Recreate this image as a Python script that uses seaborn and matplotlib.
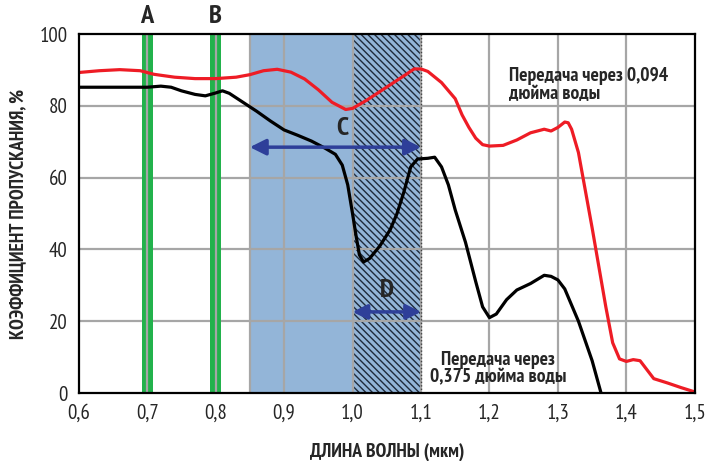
import numpy as np
import pandas as pd
import matplotlib
matplotlib.use("Agg")
import matplotlib.pyplot as plt
import seaborn as sns
from matplotlib import font_manager

red_x = [0.60, 0.63, 0.66, 0.69, 0.71, 0.74, 0.77, 0.80, 0.83, 0.85, 0.87, 0.89,
         0.91, 0.93, 0.95, 0.97, 0.99, 1.00, 1.02, 1.04, 1.06, 1.08, 1.09, 1.10,
         1.11, 1.13, 1.15, 1.16, 1.17, 1.18, 1.19, 1.20, 1.22, 1.24, 1.26, 1.28,
         1.29, 1.30, 1.31, 1.315, 1.32, 1.33, 1.35, 1.37, 1.38, 1.39, 1.40, 1.41,
         1.42, 1.43, 1.44, 1.46, 1.48, 1.50]
red_y = [89.3, 89.8, 90.1, 89.8, 88.8, 88.0, 87.6, 87.6, 88.0, 88.7, 89.8, 90.2,
         89.4, 87.5, 84.5, 81.0, 79.0, 79.3, 81.5, 84.0, 86.5, 89.0, 90.3, 90.3,
         89.6, 86.5, 82.0, 77.5, 74.0, 71.0, 69.2, 68.8, 69.0, 70.5, 72.5, 73.5,
         73.0, 74.0, 75.5, 75.3, 73.5, 67.0, 46.0, 24.0, 14.0, 9.5, 8.8, 9.3,
         9.0, 6.5, 4.0, 2.8, 1.5, 0.3]

black_x = [0.60, 0.65, 0.70, 0.72, 0.735, 0.75, 0.77, 0.785, 0.80, 0.81, 0.82,
           0.84, 0.86, 0.88, 0.90, 0.92, 0.94, 0.96, 0.975, 0.985, 0.993, 1.00,
           1.005, 1.01, 1.016, 1.025, 1.04, 1.055, 1.065, 1.075, 1.085, 1.095,
           1.11, 1.12, 1.13, 1.14, 1.15, 1.165, 1.18, 1.19, 1.20, 1.21, 1.225,
           1.24, 1.26, 1.28, 1.29, 1.30, 1.31, 1.33, 1.35, 1.363]
black_y = [85.2, 85.2, 85.2, 85.5, 85.2, 84.2, 83.2, 82.8, 83.6, 84.2, 83.5,
           81.0, 78.5, 75.8, 73.3, 71.8, 70.2, 68.2, 66.5, 63.5, 58.0, 50.0,
           44.0, 38.5, 36.5, 37.5, 41.0, 45.5, 50.0, 56.0, 63.0, 65.2,
           65.4, 65.7, 63.0, 58.0, 51.0, 42.0, 31.0, 24.0, 21.0, 22.0, 26.0,
           28.7, 30.5, 32.8, 32.5, 31.5, 29.0, 20.0, 9.0, 0.0]

x_ticks = [0.6, 0.7, 0.8, 0.9, 1.0, 1.1, 1.2, 1.3, 1.4, 1.5]
x_tick_labels = ["0,6", "0,7", "0,8", "0,9", "1,0", "1,1", "1,2", "1,3", "1,4", "1,5"]
y_ticks = [0, 20, 40, 60, 80, 100]

green_lines = {"A": 0.7, "B": 0.8}

sns.set_theme(style="white")
names = {f.name for f in font_manager.fontManager.ttflist}
candidates = ["PT Sans Narrow", "Fira Sans Condensed", "Roboto Condensed",
              "Ubuntu Condensed", "IBM Plex Sans Condensed", "Open Sans Condensed",
              "Liberation Sans"]
narrow = next((c for c in candidates if c in names), "DejaVu Sans")
plt.rcParams["font.family"] = [narrow, "DejaVu Sans"]
plt.rcParams["hatch.linewidth"] = 1.0

fig = plt.figure(figsize=(7.09, 4.61), dpi=100)
ax = fig.add_axes([0.111, 0.1475, 0.869, 0.7785])

grid_c = "#a6a6a6"
for x in x_ticks[1:-1]:
    ax.axvline(x, color=grid_c, lw=1.6, zorder=3)
for y in y_ticks[1:-1]:
    ax.axhline(y, color=grid_c, lw=1.6, zorder=3)

# зоны
blue = "#93b5d8"
ax.axvspan(0.85, 1.0, color=blue, zorder=2, lw=0)
ax.axvline(0.85, color=grid_c, lw=1.6, zorder=3)
ax.axvspan(1.0, 1.1, facecolor=blue, edgecolor="#1e2a3a", hatch="\\\\\\\\\\",
           lw=0, zorder=2)
ax.axvline(1.1, color="#444444", lw=1.0, ls=(0, (1, 1.5)), zorder=4)

for lab, x in green_lines.items():
    ax.axvspan(x - 0.008, x + 0.008, color="#22b24c", lw=0, zorder=4)
    ax.axvline(x, color=grid_c, lw=1.6, zorder=4.5)
    ax.text(x, 104.8, lab, ha="center", va="center", fontsize=19,
            fontweight="bold", clip_on=False)

df_red = pd.DataFrame({"x": red_x, "y": red_y})
df_black = pd.DataFrame({"x": black_x, "y": black_y})
sns.lineplot(data=df_red, x="x", y="y", color="#ee1c25", lw=2.3, ax=ax,
             zorder=6, sort=False)
sns.lineplot(data=df_black, x="x", y="y", color="black", lw=2.3, ax=ax,
             zorder=6, sort=False)

arrow_c = "#2e3f99"
ax.annotate("", xy=(0.85, 68.5), xytext=(1.1, 68.5),
            arrowprops=dict(arrowstyle="<|-|>", color=arrow_c, lw=2.5,
                            mutation_scale=24, shrinkA=0, shrinkB=0), zorder=7)
ax.annotate("", xy=(1.0, 22.6), xytext=(1.1, 22.6),
            arrowprops=dict(arrowstyle="<|-|>", color=arrow_c, lw=2.5,
                            mutation_scale=22, shrinkA=0, shrinkB=0), zorder=7)
ax.text(0.985, 73.8, "C", ha="center", va="center", fontsize=19,
        fontweight="bold", zorder=8)
ax.text(1.05, 28.5, "D", ha="center", va="center", fontsize=19,
        fontweight="bold", zorder=8)

ax.text(1.228, 85.8, "Передача через 0,094\nдюйма воды", ha="left",
        va="center", fontsize=14, fontweight="bold", linespacing=1.0, zorder=8)
ax.text(1.213, 6.8, "Передача через\n0,375 дюйма воды", ha="center",
        va="center", fontsize=14, fontweight="bold", linespacing=1.0,
        multialignment="center", zorder=8)

ax.set_xlim(0.6, 1.5)
ax.set_ylim(0, 100)
ax.set_xticks(x_ticks)
ax.set_xticklabels(x_tick_labels)
ax.set_yticks(y_ticks)
ax.tick_params(length=0, labelsize=15, pad=8)
ax.set_xlabel("ДЛИНА ВОЛНЫ (мкм)", fontsize=14, fontweight="bold", labelpad=14)
ax.set_ylabel("КОЭФФИЦИЕНТ ПРОПУСКАНИЯ, %", fontsize=14, fontweight="bold",
              labelpad=9)
for s in ax.spines.values():
    s.set_color("black")
    s.set_linewidth(1.6)
    s.set_zorder(9)

fig.savefig("out.png", dpi=100)
